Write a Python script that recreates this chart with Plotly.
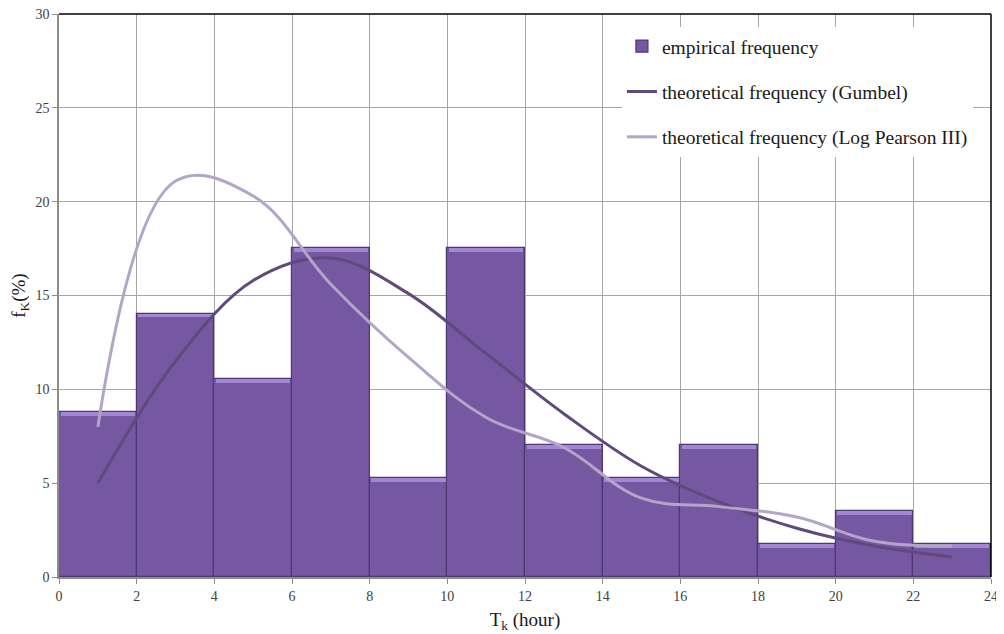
import plotly.graph_objects as go

# Data
bin_centers = [1, 3, 5, 7, 9, 11, 13, 15, 17, 19, 21, 23]
empirical = [8.77, 14.04, 10.53, 17.54, 5.26, 17.54, 7.02, 5.26, 7.02, 1.75, 3.51, 1.75]
gumbel = [5.0, 11.5, 15.8, 17.0, 15.1, 11.9, 8.7, 5.9, 4.0, 2.6, 1.65, 1.07]
logpearson = [8.0, 21.1, 20.3, 15.6, 11.7, 8.5, 6.9, 4.2, 3.75, 3.2, 1.9, 1.65]
x_ticks = list(range(0, 25, 2))
y_ticks = list(range(0, 31, 5))

FONT = "Liberation Serif"
BEVEL = 0.2  # thickness of the light top edge of each bar (in %)

fig = go.Figure()
fig.add_trace(go.Bar(
    x=bin_centers, y=empirical, width=2,
    name="empirical frequency", legendgroup="emp",
    marker=dict(color="#7657a2", line=dict(color="#4e3872", width=1.2)),
    hoverinfo="skip",
))
fig.add_trace(go.Bar(
    x=bin_centers, y=[BEVEL] * len(empirical),
    base=[v - BEVEL for v in empirical], width=1.92,
    showlegend=False, legendgroup="emp",
    marker=dict(color="#a386d4", line=dict(width=0)),
    hoverinfo="skip",
))
fig.add_trace(go.Scatter(
    x=bin_centers, y=gumbel, mode="lines",
    name="theoretical frequency (Gumbel)", legendgroup="gum",
    line=dict(color="#604a7b", width=3, shape="spline", smoothing=1.0),
))
fig.add_trace(go.Scatter(
    x=bin_centers, y=logpearson, mode="lines",
    name="theoretical frequency (Log Pearson III)", legendgroup="lp3",
    line=dict(color="#b3a5c8", width=3, shape="spline", smoothing=1.1),
))

# The page body has an 8px margin, so the figure is sized 996x626 and offset.
fig.update_layout(
    width=996, height=626,
    margin=dict(l=51, r=13, t=6, b=57, autoexpand=False),
    paper_bgcolor="white", plot_bgcolor="white",
    font=dict(family=FONT, size=14, color="#404040"),
    bargap=0, barmode="overlay",
    showlegend=True,
    legend=dict(
        x=0.604, y=0.977, xanchor="left", yanchor="top",
        bgcolor="white", borderwidth=0,
        font=dict(family=FONT, size=19.5, color="#1a1a1a"),
        tracegroupgap=17, itemwidth=30,
    ),
    xaxis=dict(
        range=[0, 24], tickvals=x_ticks, ticks="outside", ticklen=5,
        tickcolor="#8c8c8c", showgrid=True, gridcolor="#a6a6a6", gridwidth=1,
        showline=True, linecolor="#8c8c8c", linewidth=1.5, zeroline=False,
        automargin=False, ticklabeloverflow="allow",
        title=dict(text="T<sub>k</sub> (hour)", font=dict(family=FONT, size=19, color="#1a1a1a"), standoff=10),
        tickfont=dict(family=FONT, size=14, color="#404040"),
    ),
    yaxis=dict(
        range=[0, 30], tickvals=y_ticks, ticks="outside", ticklen=5,
        tickcolor="#8c8c8c", showgrid=True, gridcolor="#a6a6a6", gridwidth=1,
        showline=True, linecolor="#8c8c8c", linewidth=1.5, zeroline=False,
        automargin=False, ticklabeloverflow="allow",
        title=dict(text="f<sub>K</sub>(%)", font=dict(family=FONT, size=19, color="#1a1a1a"), standoff=8),
        tickfont=dict(family=FONT, size=14, color="#404040"),
    ),
    shapes=[
        dict(type="line", xref="paper", yref="paper", x0=0, x1=1, y0=1, y1=1,
             line=dict(color="#000000", width=1.5)),
        dict(type="line", xref="paper", yref="paper", x0=1, x1=1, y0=0, y1=1,
             line=dict(color="#000000", width=1.5)),
    ],
)

fig.write_html("out.html")
